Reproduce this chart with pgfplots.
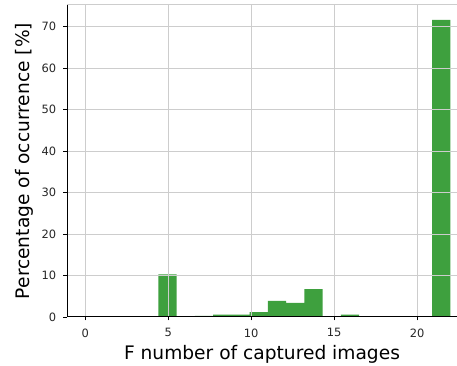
\documentclass[border=0pt]{standalone}
\usepackage{pgfplots}
\pgfplotsset{compat=1.18}
\usepackage{fontspec}
\setmainfont{DejaVu Sans}
\usetikzlibrary{calc}
\definecolor{bargreen}{RGB}{62,160,62}
\definecolor{gridgray}{RGB}{205,205,205}
\begin{document}
\begin{tikzpicture}
\begin{axis}[
  scale only axis, width=195bp, height=156bp,
  xmin=-1.1, xmax=22.4, ymin=0, ymax=75.2,
  axis x line*=bottom, axis y line*=left,
  xtick={0,5,10,15,20}, ytick={0,10,20,30,40,50,60,70},
  grid=major, grid style={color=gridgray, line width=0.5bp},
  tick align=outside, major tick length=1.75bp,
  tick style={black, line width=0.4bp},
  axis line style={black, line width=0.5bp},
  /pgf/number format/assume math mode=true,
  ticklabel style={font=\fontsize{5.75}{6}\selectfont, text=black!85},
  xticklabel style={inner sep=0pt, yshift=-3.8bp},
  yticklabel style={inner sep=0pt, xshift=-3.5bp},
  xlabel={F number of captured images},
  ylabel={Percentage of occurrence [\%]},
  label style={font=\fontsize{9.35}{10}\selectfont},
  xlabel style={at={(rel axis cs:0.5,0)}, anchor=north, inner sep=0pt, yshift=-14.2bp},
  ylabel style={at={(rel axis cs:0,0.5)}, anchor=south, inner sep=0pt, yshift=16.8bp},
  axis on top,
  clip=false,
]
\addplot[ybar interval, fill=bargreen, draw=none] coordinates {
  (0,0) (1.1,0) (2.2,0) (3.3,0) (4.4,10.3) (5.5,0.15) (6.6,0.3) (7.7,0.6)
  (8.8,0.6) (9.9,1.2) (11,3.9) (12.1,3.4) (13.2,6.7) (14.3,0) (15.4,0.6)
  (16.5,0) (17.6,0) (18.7,0) (19.8,0) (20.9,71.6) (22,0)
};
\draw[gridgray, line width=0.5bp] (rel axis cs:0,1) -- (rel axis cs:1,1);
\coordinate (SW) at (rel axis cs:0,0);
\coordinate (NE) at (rel axis cs:1,1);
\end{axis}
\pgfresetboundingbox
\path[use as bounding box] ($(SW)+(-33.5bp,-24.5bp)$) rectangle ($(NE)+(0,2.5bp)$);
\end{tikzpicture}
\end{document}
